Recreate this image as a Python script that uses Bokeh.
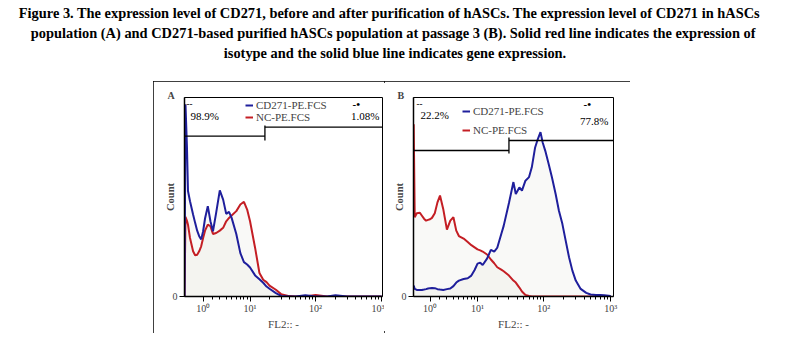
import numpy as np
from bokeh.plotting import figure
from bokeh.models import (Range1d, FixedTicker, CustomJSTickFormatter, Label, Legend,
                          LegendItem, Spacer)
from bokeh.layouts import column, row
from bokeh.embed import file_html
from bokeh.resources import INLINE

# ---------------- data ----------------
title_lines = [
    "Figure 3. The expression level of  CD271, before and after purification of  hASCs. The expression level of  CD271 in hASCs",
    "population (A) and  CD271-based purified hASCs population at passage 3 (B). Solid red line indicates the expression of",
    "isotype and the solid blue line indicates gene expression.",
]
series_names = ["CD271-PE.FCS", "NC-PE.FCS"]

# Panel A (hASCs population) - FL2 intensity vs count
fl2_a = [-0.85, -0.75, -0.6, -0.5, -0.3, 0, 0.2, 0.4, 0.6, 0.8, 1.0, 1.2, 1.5, 1.8, 2.1, 2.5, 3, 3.5,
         4, 4.5, 5, 6, 7, 8, 9, 10, 12, 14, 16, 18, 20, 25, 30, 40, 50, 70, 100, 150, 200, 300, 500, 1000]
cd271_a = [0, 96.6, 74.8, 53.0, 47.9, 41.2, 37.0, 33.1, 30.3, 28.7, 32.8, 39.2, 45.4, 37.8, 32.8, 42.0,
           53.3, 48.7, 41.5, 42.5, 39.5, 31.4, 21.8, 17.3, 16.1, 14.6, 10.6, 8.7, 6.9, 5.0, 3.9, 1.7, 0.3,
           0.0, 0.0, 0.6, 0.0, 0.0, 0.6, 0.0, 0.0, 0.0]
nc_a = [0, 40.0, 38.0, 36.1, 29.4, 22.7, 20.7, 21.0, 22.7, 25.2, 29.4, 33.1, 36.1, 35.3, 31.4, 31.9,
        33.1, 34.5, 37.8, 39.5, 40.7, 42.9, 46.2, 47.6, 43.7, 37.8, 24.4, 11.8, 8.4, 7.2, 5.5, 3.4, 1.2,
        0.2, 0.0, 0.0, 0.8, 0.0, 0.0, 0.0, 0.0, 0.0]

# Panel B (CD271-based purified hASCs, passage 3)
fl2_b = [-0.6, -0.5, -0.3, 0, 0.2, 0.4, 0.6, 0.8, 1.0, 1.2, 1.5, 1.8, 2.1, 2.5, 3, 3.5, 4, 4.5, 5, 6, 7,
         8, 9, 10, 11, 12, 14, 16, 18, 20, 23, 25, 30, 35, 38, 43, 47, 53, 60, 66, 74, 81, 89, 96, 105,
         118, 132, 150, 168, 189, 212, 238, 267, 300, 355, 430, 500, 600, 700, 800, 1000]
cd271_b = [5.5, 3.8, 3.3, 3.3, 3.3, 3.5, 3.7, 4.0, 4.2, 4.3, 4.2, 3.7, 3.5, 3.3, 3.7, 4.0, 5.2, 7.0, 8.0,
           8.8, 9.2, 10.5, 13.3, 16.5, 17.0, 15.8, 19.0, 23.4, 22.5, 24.5, 31.4, 35.5, 47.0, 57.5, 51.5,
           54.8, 53.2, 58.2, 60.0, 64.9, 74.9, 79.0, 82.6, 77.4, 73.2, 66.6, 59.9, 51.5, 43.1, 36.5,
           28.1, 19.7, 13.0, 8.0, 3.8, 1.8, 1.0, 0.8, 0.7, 0.6, 0.2]
nc_b = [86.6, 39.8, 41.8, 42.1, 40.6, 39.1, 38.1, 38.5, 38.8, 39.5, 41.8, 47.3, 50.7, 44.0, 33.6, 38.1,
        39.8, 33.1, 30.4, 29.1, 27.4, 25.8, 24.7, 23.7, 23.2, 22.6, 21.1, 18.6, 16.7, 14.7, 13.5, 12.7,
        10.5, 8.0, 7.0, 4.5, 2.5, 0.8, 0.3, 0.0, 0.0, 0.0, 0.0, 0.0, 0.0, 0.0, 0.0, 0.0, 0.0, 0.0,
        0.0, 0.0, 0.0, 0.0, 0.0, 0.0, 0.0, 0.0, 0.0, 0.0, 0.0]

x_tick_values = [1, 10, 100, 1000]
x_tick_labels = ["10\u2070", "10\u00b9", "10\u00b2", "10\u00b3"]
x_minor_values = [k * 10 ** n for n in range(3) for k in range(2, 10)]
y_tick_values = [0]
y_limits = [0, 100]
x_limits_a = [-0.85, 1030]
x_limits_b = [-0.62, 1100]
gate_split_a = 17
gate_split_b = 30
pct_a = ["98.9%", "1.08%"]
pct_b = ["22.2%", "77.8%"]
gate_marks = ["--", "-\u2022"]
panel_letters = ["A", "B"]

# ---------------- style / layout ----------------
BLUE = "#1f1f9c"
RED = "#c41e24"
FILL = "#deded2"
SERIF = "Liberation Serif"
PAGE_W, PAGE_H = 789, 348
ROW_TOP, FRAME_TOP, FRAME_BOTTOM, ROW_BOTTOM = 81, 97, 296, 333
BOX_LEFT, BOX_RIGHT = 153, 630


def T(v):
    """biexponential-like display transform used by the cytometry software"""
    return np.arcsinh(np.asarray(v, dtype=float) / 2.8) / np.log(10)


def panel(fl2, blue_vals, red_vals, xlim, fig_left, fig_w, frame_left, frame_w, letter, split,
          gate_px, pct, pct_px, mark_px, legend_xy, legend_spacing):
    x0, x1 = float(T(xlim[0])), float(T(xlim[1]))
    bl = frame_left - fig_left
    p = figure(width=fig_w, height=ROW_BOTTOM - ROW_TOP,
               x_range=Range1d(x0, x1), y_range=Range1d(*y_limits),
               min_border_left=bl, min_border_right=fig_w - bl - frame_w,
               min_border_top=FRAME_TOP - ROW_TOP, min_border_bottom=ROW_BOTTOM - FRAME_BOTTOM,
               output_backend="svg", toolbar_location=None,
               background_fill_color="white", border_fill_color="white")
    p.xgrid.visible = False
    p.ygrid.visible = False
    p.outline_line_color = "black"
    p.outline_line_width = 1

    def dx(px):
        return x0 + (px - frame_left) * (x1 - x0) / frame_w

    def dy(py):
        return y_limits[0] + (FRAME_BOTTOM - py) * (y_limits[1] - y_limits[0]) / (FRAME_BOTTOM - FRAME_TOP)

    xs = T(fl2)
    p.varea(x=xs, y1=0, y2=red_vals, fill_color=FILL, fill_alpha=0.18)
    p.varea(x=xs, y1=0, y2=blue_vals, fill_color=FILL, fill_alpha=0.18)
    r_red = p.line(xs, red_vals, line_color=RED, line_width=2)
    r_blue = p.line(xs, blue_vals, line_color=BLUE, line_width=2)

    # gates
    s = float(T(split))
    gl, gr, b0, b1 = (dy(v) for v in gate_px)
    p.segment(x0=[x0, s, s], y0=[gl, gr, b0], x1=[s, x1, s], y1=[gl, gr, b1],
              line_color="black", line_width=1.3)

    # panel letter
    p.title.text = letter
    p.title.align = "left"
    p.title.offset = -17
    p.title.standoff = -6
    p.title.text_font = SERIF
    p.title.text_font_size = "10px"
    p.title.text_font_style = "bold"

    # axes
    xa = p.xaxis[0]
    xa.ticker = FixedTicker(ticks=[float(t) for t in T(x_tick_values)],
                            minor_ticks=[float(t) for t in T(x_minor_values)])
    xa.formatter = CustomJSTickFormatter(
        args=dict(pos=[float(t) for t in T(x_tick_values)], labels=x_tick_labels),
        code="for (let j = 0; j < pos.length; j++) { if (Math.abs(pos[j] - tick) < 1e-6) return labels[j]; } return '';")
    xa.major_tick_out = 5
    xa.major_tick_in = 0
    xa.minor_tick_out = 3
    xa.minor_tick_in = 0
    xa.axis_line_width = 1.5
    xa.major_label_text_font = SERIF
    xa.major_label_text_font_size = "10px"
    xa.major_label_standoff = 1
    xa.axis_label = "FL2:: -"
    xa.axis_label_text_font = SERIF
    xa.axis_label_text_font_size = "11px"
    xa.axis_label_text_font_style = "normal"
    xa.axis_label_standoff = 1

    ya = p.yaxis[0]
    ya.ticker = FixedTicker(ticks=y_tick_values, minor_ticks=[])
    ya.major_tick_out = 5
    ya.major_tick_in = 0
    ya.minor_tick_out = 0
    ya.axis_line_width = 1.5
    ya.major_label_text_font = SERIF
    ya.major_label_text_font_size = "10px"
    ya.major_label_standoff = 2
    ya.axis_label = "Count"
    ya.axis_label_text_font = SERIF
    ya.axis_label_text_font_size = "10.5px"
    ya.axis_label_text_font_style = "bold"
    ya.axis_label_standoff = -6

    def lab(text, px, py, align="left", size="11px", style="normal"):
        p.add_layout(Label(x=dx(px), y=dy(py), text=text, text_align=align, text_baseline="middle",
                           text_font=SERIF, text_font_size=size, text_font_style=style,
                           text_color="black"))

    lab(gate_marks[0], mark_px[0][0], mark_px[0][1], size="9px", style="bold")
    lab(gate_marks[1], mark_px[1][0], mark_px[1][1], size="11px", style="bold")
    lab(pct[0], pct_px[0][0], pct_px[0][1], align="left")
    lab(pct[1], pct_px[1][0], pct_px[1][1], align="right")

    legend = Legend(items=[LegendItem(label=series_names[0], renderers=[r_blue]),
                           LegendItem(label=series_names[1], renderers=[r_red])],
                    location=legend_xy, orientation="vertical",
                    background_fill_alpha=0, border_line_alpha=0,
                    padding=0, margin=0, spacing=legend_spacing,
                    glyph_width=8, glyph_height=12, label_height=12, label_standoff=3,
                    label_text_font=SERIF, label_text_font_size="11px")
    p.add_layout(legend)
    return p


pA = panel(fl2_a, cd271_a, nc_a, x_limits_a, fig_left=BOX_LEFT, fig_w=384 - BOX_LEFT,
           frame_left=184, frame_w=198, letter=panel_letters[0], split=gate_split_a,
           gate_px=(135.7, 126.7, 140, 125),
           pct=pct_a, pct_px=((190, 115), (379, 115)), mark_px=((186, 103), (352, 103)),
           legend_xy=(61, 173), legend_spacing=0)
pB = panel(fl2_b, cd271_b, nc_b, x_limits_b, fig_left=384, fig_w=BOX_RIGHT - 384,
           frame_left=413, frame_w=200, letter=panel_letters[1], split=gate_split_b,
           gate_px=(150, 140, 153, 137),
           pct=pct_b, pct_px=((420, 114), (608, 120)), mark_px=((416, 103), (583, 103)),
           legend_xy=(49, 160), legend_spacing=7)
pB.title.offset = -16

top = figure(width=PAGE_W, height=ROW_TOP, x_range=Range1d(0, PAGE_W), y_range=Range1d(ROW_TOP, 0),
             min_border=0, x_axis_location=None, y_axis_location=None,
             output_backend="svg", toolbar_location=None, outline_line_color=None)
top.xgrid.visible = False
top.ygrid.visible = False
for i, line in enumerate(title_lines):
    top.add_layout(Label(x=394.5, y=12 + 20.3 * i, text=line, text_align="center",
                         text_baseline="middle", text_font=SERIF, text_font_style="bold",
                         text_font_size="14.4px", text_color="black"))

boxed = row(pA, pB, styles={"outline": "2px solid black", "outline-offset": "-2px"})
middle = row(Spacer(width=BOX_LEFT, height=ROW_BOTTOM - ROW_TOP), boxed,
             Spacer(width=PAGE_W - BOX_RIGHT, height=ROW_BOTTOM - ROW_TOP))
layout = column(top, middle, Spacer(width=PAGE_W, height=PAGE_H - ROW_BOTTOM))
open("out.html", "w").write(file_html(layout, INLINE))
